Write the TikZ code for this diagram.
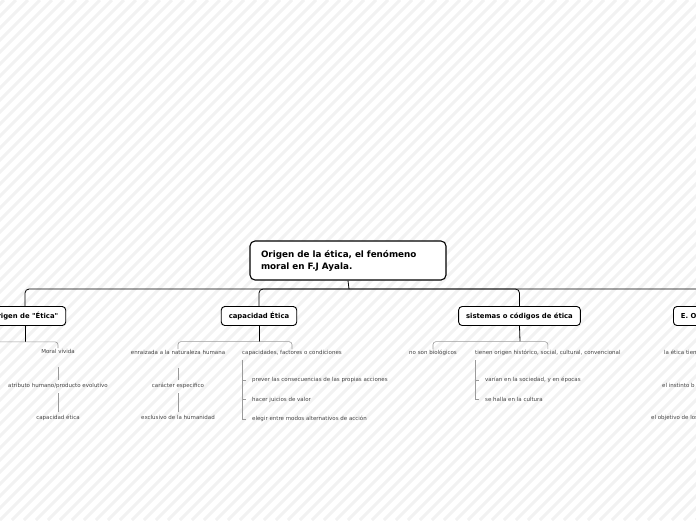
\documentclass[tikz,border=0pt]{standalone}
\usepackage{fontspec}
\setmainfont{DejaVu Sans}
\newfontfamily\mapfont{DejaVu Sans}
\usepackage{tikz}
\definecolor{stripegray}{HTML}{F2F2F2}
\definecolor{leafgray}{HTML}{444444}
\definecolor{twiggray}{HTML}{9A9A9A}

\begin{document}
\begin{tikzpicture}[
        x=1pt, y=-1pt,
        title/.style={
            rectangle,
            rounded corners=5pt,
            draw=black,
            line width=1.1pt,
            fill=white,
            font=\mapfont\bfseries\fontsize{8.8}{12}\selectfont,
            text width=174pt,
            align=left,
            inner xsep=11pt,
            minimum height=39pt
        },
        box/.style={
            rectangle,
            rounded corners=3.5pt,
            draw=black,
            line width=0.9pt,
            fill=white,
            font=\mapfont\bfseries\fontsize{6.85}{8}\selectfont,
            inner xsep=7.5pt,
            minimum height=19pt
        },
        leaf/.style={
            text=leafgray,
            font=\mapfont\fontsize{5.5}{6.5}\selectfont,
            inner sep=1pt,
            text height=4.2pt,
            text depth=1.2pt
        },
        link/.style={
            draw=black,
            line width=0.8pt,
            rounded corners=4pt
        },
        brace/.style={
            draw=twiggray,
            line width=0.6pt,
            rounded corners=3pt
        },
        twig/.style={
            draw=twiggray,
            line width=0.6pt
        },
        tree/.style={
            draw=twiggray,
            line width=0.6pt,
            shorten >=5pt
        }
    ]
        \useasboundingbox (0,0) rectangle (696,520);
        \clip (0,0) rectangle (696,520);

        % Background stripes
        \foreach \s in {-528,-516,...,696}
            \draw[stripegray, line width=3pt] (\s,520) -- ++(520,-520);

        % Root
        \node[title] (main) at (348,260.5) {Origen de la ética, el fenómeno\\moral en F.J Ayala.};
        \coordinate (mb) at (349,289);

        % Origen side
        \node[box] (ori) at (25,316) {Origen de "Ética"};
        \node[leaf] (mv) at (58,352) {Moral vivida};
        \node[leaf] (ah) at (58,386) {atributo humano/producto evolutivo};
        \node[leaf] (ce) at (58,418) {capacidad ética};
        \coordinate (orib) at (25,341.5);
        \coordinate (oril) at (-8,349.3);

        % Capacidad side
        \node[box] (cap) at (259,316) {capacidad Ética};
        \node[leaf] (en) at (178,353) {enraizada a la naturaleza humana};
        \node[leaf] (ca) at (178,386) {carácter especifico};
        \node[leaf] (eh) at (178,418) {exclusivo de la humanidad};
        \node[leaf, anchor=west] (cf) at (241,353) {capacidades, factores o condiciones};
        \node[leaf, anchor=west] (pc) at (251,380) {prever las consecuencias de las propias acciones};
        \node[leaf, anchor=west] (hj) at (251,399.5) {hacer juicios de valor};
        \node[leaf, anchor=west] (em) at (251,419) {elegir entre modos alternativos de acción};
        \coordinate (capb) at (259,341.5);
        \coordinate (cft) at (242,360);

        % Sistemas side
        \node[box] (sis) at (519.5,316) {sistemas o códigos de ética};
        \node[leaf] (nb) at (433,353) {no son biológicos};
        \node[leaf, anchor=west] (to) at (474,353) {tienen origen histórico, social, cultural, convencional};
        \node[leaf, anchor=west] (vs) at (484,380) {varían en la sociedad, y en épocas};
        \node[leaf, anchor=west] (sh) at (484,399.5) {se halla en la cultura};
        \coordinate (sisb) at (520,341.5);
        \coordinate (tot) at (475,360);

        % E. O side
        \node[box, anchor=west, text width=60pt, align=left] (eo) at (673,316) {E. O};
        \node[leaf, anchor=west] (le) at (663,353) {la ética tien};
        \node[leaf, anchor=west] (ib) at (661,386) {el instinto b};
        \node[leaf, anchor=west] (ol) at (650,418) {el objetivo de los};

        % Main links
        \draw[link] (main.south) -- (mb);
        \foreach \n in {ori,cap,sis,eo}
            \draw[link] (mb) -| (\n.north);

        % Origen links
        \draw[link] (ori.south) -- (orib);
        \draw[brace] (oril) -- ++(0,-7.5) -| (mv.north);
        \draw[twig, shorten <=15pt, shorten >=6pt] (mv.center) -- (ah.center);
        \draw[twig, shorten <=7pt, shorten >=6pt] (ah.center) -- (ce.center);

        % Capacidad links
        \draw[link] (cap.south) -- (capb);
        \draw[brace] (en.north) -- ++(0,-7.5) -| (cf.north);
        \draw[twig, shorten <=15pt, shorten >=6pt] (en.center) -- (ca.center);
        \draw[twig, shorten <=7pt, shorten >=6pt] (ca.center) -- (eh.center);
        \draw[tree] (cft) |- (pc.west);
        \draw[tree] (cft) |- (hj.west);
        \draw[tree] (cft) |- (em.west);

        % Sistemas links
        \draw[link] (sis.south) -- (sisb);
        \draw[brace] (nb.north) -- ++(0,-7.5) -| (to.north);
        \draw[tree] (tot) |- (vs.west);
        \draw[tree] (tot) |- (sh.west);
\end{tikzpicture}
\end{document}
